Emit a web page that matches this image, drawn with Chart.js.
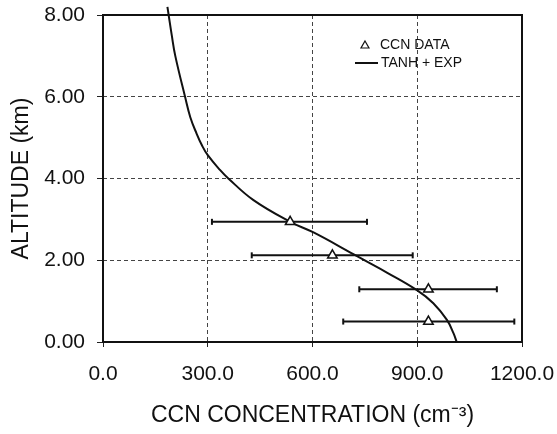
<!DOCTYPE html>
<html>
<head>
<meta charset="utf-8">
<script src="https://cdn.jsdelivr.net/npm/chart.js@4/dist/chart.umd.min.js"></script>
<style>
  html, body { margin: 0; padding: 0; background: #fff; }
</style>
</head>
<body>
<canvas id="myChart" width="557" height="434"></canvas>
<script>
// measured CCN points (altitude in km) with their spread
var ccnAlt = [2.94, 2.12, 1.29, 0.50];
var ccnConc = [536, 657, 932, 932];
var ccnLow = [312, 426, 734, 688];
var ccnHigh = [756, 887, 1128, 1178];

// fitted profile, tanh + exp
var fitConc = [184.5, 188, 197, 207, 235, 250, 268, 284, 300, 335, 359, 431, 536, 603, 717, 751, 813, 899, 946, 985, 1004, 1013];
var fitAlt = [8.2, 8.0, 7.5, 7.0, 6.0, 5.5, 5.1, 4.8, 4.57, 4.21, 4.0, 3.47, 2.94, 2.68, 2.15, 1.99, 1.70, 1.27, 0.95, 0.54, 0.21, 0.0];

var xTicks = [0, 300, 600, 900, 1200];
var yTicks = [0, 2, 4, 6, 8];

var FONT = '"Liberation Sans", Arial, Helvetica, sans-serif';
Chart.defaults.font.family = FONT;
Chart.defaults.color = '#111';

function pts(xs, ys) {
  var out = [];
  for (var i = 0; i < xs.length; i++) out.push({x: xs[i], y: ys[i]});
  return out;
}

var datasets = [];

datasets.push({
  label: 'CCN DATA',
  type: 'scatter',
  data: pts(ccnConc, ccnAlt),
  pointStyle: 'triangle',
  pointRadius: 5.5,
  pointBackgroundColor: '#fff',
  pointBorderColor: '#111',
  pointBorderWidth: 1.5,
  order: 0
});

datasets.push({
  label: 'TANH + EXP',
  type: 'line',
  data: pts(fitConc, fitAlt),
  borderColor: '#111',
  borderWidth: 2,
  pointRadius: 0,
  tension: 0.4,
  clip: false,
  order: 1
});

// horizontal error bars with short end caps
for (var i = 0; i < ccnAlt.length; i++) {
  datasets.push({
    label: 'err' + i,
    type: 'line',
    data: [{x: ccnLow[i], y: ccnAlt[i]}, {x: ccnHigh[i], y: ccnAlt[i]}],
    borderColor: '#111',
    borderWidth: 2,
    pointStyle: 'line',
    rotation: 90,
    pointRadius: 3,
    pointBorderWidth: 2,
    pointBorderColor: '#111',
    order: 2
  });
}

// closed box round the plot
var frame = {
  id: 'frame',
  beforeDatasetsDraw: function(chart) {
    var a = chart.chartArea, c = chart.ctx;
    c.save();
    c.strokeStyle = '#111';
    c.lineWidth = 2;
    c.strokeRect(a.left, a.top, a.right - a.left, a.bottom - a.top);
    c.restore();
  }
};

// key in the upper right of the plot
var keyBox = {
  id: 'keyBox',
  afterDraw: function(chart) {
    var a = chart.chartArea, c = chart.ctx;
    var x = a.left + 262, y1 = a.top + 30, y2 = a.top + 48;
    c.save();
    c.strokeStyle = '#111';
    c.fillStyle = '#111';
    c.lineWidth = 1.2;
    c.beginPath();
    c.moveTo(x, y1 - 4);
    c.lineTo(x + 4, y1 + 3);
    c.lineTo(x - 4, y1 + 3);
    c.closePath();
    c.stroke();
    c.lineWidth = 2;
    c.beginPath();
    c.moveTo(x - 10, y2);
    c.lineTo(x + 13, y2);
    c.stroke();
    c.font = '14px ' + FONT;
    c.textBaseline = 'middle';
    c.fillText('CCN DATA', x + 15, y1);
    c.fillText('TANH + EXP', x + 16, y2);
    c.restore();
  }
};

var ctx = document.getElementById('myChart').getContext('2d');
var chart = new Chart(ctx, {
  type: 'scatter',
  data: { datasets: datasets },
  plugins: [frame, keyBox],
  options: {
    responsive: false,
    animation: false,
    layout: { padding: { top: 15, right: 35, bottom: 0, left: 0 } },
    plugins: {
      legend: { display: false },
      tooltip: { enabled: false }
    },
    scales: {
      x: {
        type: 'linear',
        min: 0,
        max: 1200,
        afterBuildTicks: function(s) { s.ticks = xTicks.map(function(v) { return {value: v}; }); },
        afterFit: function(s) {
          s.height = 92;
          s.paddingLeft = 0;
          s.paddingRight = 0;
        },
        ticks: {
          padding: 15,
          font: { size: 21 },
          color: '#111',
          maxRotation: 0,
          callback: function(v) { return v.toFixed(1); }
        },
        grid: {
          color: '#444',
          lineWidth: 1,
          tickLength: 5,
          tickColor: '#222'
        },
        border: { display: false, dash: [4, 3] },
        title: {
          display: true,
          text: 'CCN CONCENTRATION (cm\u207B\u00B3)',
          font: { size: 23 },
          color: '#111',
          padding: { top: 0, bottom: 5 }
        }
      },
      y: {
        type: 'linear',
        min: 0,
        max: 8,
        afterBuildTicks: function(s) { s.ticks = yTicks.map(function(v) { return {value: v}; }); },
        afterFit: function(s) {
          s.width = 103;
          s.paddingTop = 0;
          s.paddingBottom = 0;
        },
        ticks: {
          padding: 12,
          font: { size: 21 },
          color: '#111',
          callback: function(v) { return v.toFixed(2); }
        },
        grid: {
          color: '#444',
          lineWidth: 1,
          tickLength: 6,
          tickColor: '#222'
        },
        border: { display: false, dash: [4, 3] },
        title: {
          display: true,
          text: 'ALTITUDE (km)',
          font: { size: 23 },
          color: '#111',
          padding: { top: 8, bottom: 0 }
        }
      }
    }
  }
});
</script>
</body>
</html>
